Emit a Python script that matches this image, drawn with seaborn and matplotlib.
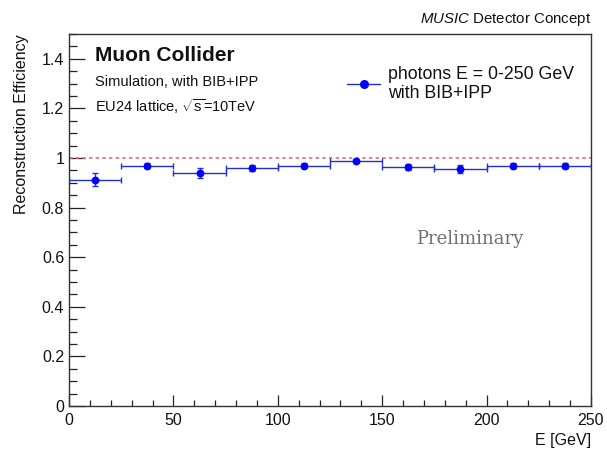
import numpy as np
import pandas as pd
import matplotlib
matplotlib.use("Agg")
import matplotlib.pyplot as plt
from matplotlib.lines import Line2D
from matplotlib.ticker import MultipleLocator
import seaborn as sns

# ---- data ----
bin_edges = [0, 25, 50, 75, 100, 125, 150, 175, 200, 225, 250]
energy = [12.5, 37.5, 62.5, 87.5, 112.5, 137.5, 162.5, 187.5, 212.5, 237.5]
efficiency = [0.913, 0.968, 0.940, 0.960, 0.968, 0.988, 0.965, 0.956, 0.968, 0.968]
eff_err = [0.025, 0.010, 0.020, 0.012, 0.010, 0.006, 0.012, 0.016, 0.010, 0.010]
x_ticks = [0, 50, 100, 150, 200, 250]
y_ticks = [0, 0.2, 0.4, 0.6, 0.8, 1.0, 1.2, 1.4]
y_tick_labels = ["0", "0.2", "0.4", "0.6", "0.8", "1", "1.2", "1.4"]

half_width = [(bin_edges[i + 1] - bin_edges[i]) / 2 for i in range(len(energy))]
df = pd.DataFrame({"E": energy, "eff": efficiency, "err": eff_err, "xerr": half_width})

sns.set_theme(style="ticks")
plt.rcParams["font.family"] = ["Liberation Sans", "DejaVu Sans"]
plt.rcParams["mathtext.fontset"] = "custom"
plt.rcParams["mathtext.rm"] = "Liberation Sans"
plt.rcParams["mathtext.it"] = "Liberation Sans:italic"

fig = plt.figure(figsize=(6.07, 4.51), dpi=100)
ax = fig.add_axes([0.1137, 0.0998, 0.8599, 0.8248])

BLUE = "#0000ff"
ax.axhline(1.0, color="#e07070", linestyle=(0, (2, 2)), lw=1.2, zorder=1)
ax.errorbar(df["E"], df["eff"], xerr=df["xerr"], yerr=df["err"], fmt="none",
            ecolor="#2030d0", elinewidth=1.0, capsize=2.5, capthick=1.0, zorder=2)
sns.scatterplot(data=df, x="E", y="eff", ax=ax, color=BLUE, s=32,
                edgecolor=BLUE, linewidth=0, zorder=3, legend=False)

ax.set_xlim(0, 250)
ax.set_ylim(0, 1.5)
ax.set_xticks(x_ticks)
ax.set_yticks(y_ticks)
ax.set_yticklabels(y_tick_labels)
ax.xaxis.set_minor_locator(MultipleLocator(10))
ax.yaxis.set_minor_locator(MultipleLocator(0.05))
ax.tick_params(axis="both", which="both", direction="in", labelsize=11.5,
               colors="#222222", top=False, right=False)
ax.tick_params(axis="y", which="major", length=11.3, width=0.9)
ax.tick_params(axis="y", which="minor", length=5.6, width=0.9)
ax.tick_params(axis="x", which="major", length=8, width=0.9, pad=5)
ax.tick_params(axis="x", which="minor", length=4, width=0.9)
for tl in ax.get_xticklabels() + ax.get_yticklabels():
    tl.set_color("#111111")
for sp in ax.spines.values():
    sp.set_visible(True)
    sp.set_color("#333333")
    sp.set_linewidth(1.0)

ax.set_xlabel("E [GeV]", loc="right", fontsize=11.5, color="#111111")
ax.set_ylabel("Reconstruction Efficiency", loc="top", fontsize=11.5,
              color="#111111", labelpad=9)

ax.text(0.05, 0.967, "Muon Collider", transform=ax.transAxes, fontsize=15,
        fontweight="bold", va="top", ha="left", color="#111111")
ax.text(0.05, 0.89, "Simulation, with BIB+IPP", transform=ax.transAxes,
        fontsize=10.5, va="top", ha="left", color="#111111")
ax.text(0.05, 0.83, "EU24 lattice, $\\sqrt{\\mathrm{s}}$=10TeV", transform=ax.transAxes,
        fontsize=10.5, va="top", ha="left", color="#111111")

fig.text(0.9736, 0.937, r"$\mathit{MUSIC}$ Detector Concept", ha="right", va="bottom",
         fontsize=10.8, color="#111111")

ax.text(0.768, 0.45, "Preliminary", transform=ax.transAxes, fontsize=13,
        fontfamily="DejaVu Serif", color="#707070", ha="center", va="center")

handle = Line2D([], [], color="#2030d0", lw=1.0, marker="o", markersize=5.5,
                markerfacecolor=BLUE, markeredgecolor=BLUE)
leg = ax.legend([handle], ["photons E = 0-250 GeV\nwith BIB+IPP"],
                loc="upper left", bbox_to_anchor=(0.532, 0.915), frameon=False,
                fontsize=12.8, handlelength=1.9, handletextpad=0.4,
                borderpad=0, borderaxespad=0)
for t in leg.get_texts():
    t.set_color("#111111")
    t.set_linespacing(1.15)

fig.savefig("out.png", dpi=100)
